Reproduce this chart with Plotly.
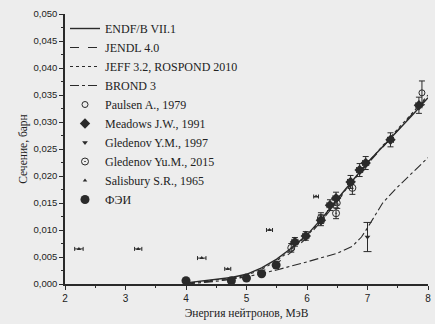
import plotly.graph_objects as go

# Evaluated curves
E_endf = [4.0, 4.25, 4.5, 4.75, 5.0, 5.25, 5.5, 5.75, 6.0, 6.25, 6.5, 6.75, 7.0, 7.25, 7.5, 7.75, 8.0]
s_endf = [0.0002, 0.0005, 0.0008, 0.0012, 0.0018, 0.0030, 0.0046, 0.0067, 0.0091, 0.0122, 0.0157, 0.0191, 0.0225, 0.0254, 0.0283, 0.0314, 0.0345]
E_jendl = [4.0, 4.25, 4.5, 4.75, 5.0, 5.25, 5.5, 5.75, 6.0, 6.25, 6.5, 6.75, 7.0, 7.25, 7.5, 7.75, 8.0]
s_jendl = [0.0001, 0.0003, 0.0006, 0.0009, 0.0014, 0.0023, 0.0038, 0.0060, 0.0086, 0.0118, 0.0153, 0.0188, 0.0222, 0.0253, 0.0284, 0.0316, 0.0348]
E_jeff = [4.0, 4.25, 4.5, 4.75, 5.0, 5.25, 5.5, 5.75, 6.0, 6.25, 6.5, 6.75, 7.0, 7.25, 7.5, 7.75, 8.0]
s_jeff = [0.0001, 0.0004, 0.0007, 0.0011, 0.0016, 0.0027, 0.0043, 0.0064, 0.0089, 0.0120, 0.0155, 0.0190, 0.0224, 0.0256, 0.0286, 0.0318, 0.0350]
E_brond = [4.0, 4.5, 5.0, 5.5, 6.0, 6.5, 6.75, 6.9, 7.0, 7.25, 7.5, 7.75, 8.0]
s_brond = [0.0000, 0.0005, 0.0013, 0.0026, 0.0041, 0.0057, 0.0070, 0.0087, 0.0104, 0.0150, 0.0180, 0.0207, 0.0234]

# Experimental data
E_paulsen = [6.5, 7.9]
s_paulsen = [0.0150, 0.0354]
e_paulsen = [0.0010, 0.0022]

E_meadows = [5.8, 5.98, 6.23, 6.38, 6.48, 6.72, 6.87, 6.97, 7.38, 7.85]
s_meadows = [0.0078, 0.0089, 0.0118, 0.0146, 0.0159, 0.0189, 0.0211, 0.0224, 0.0267, 0.0331]
e_meadows = [0.0008, 0.0008, 0.0010, 0.0010, 0.0011, 0.0012, 0.0012, 0.0012, 0.0013, 0.0015]

E_gled97 = [7.0]
s_gled97 = [0.0087]
e_gled97 = [0.0027]

E_gled15 = [5.74, 6.23, 6.48, 6.75]
s_gled15 = [0.0067, 0.0122, 0.0131, 0.0178]
e_gled15 = [0.0008, 0.0010, 0.0010, 0.0012]

E_salis = [2.23, 3.21, 4.26, 4.69, 5.38, 6.15]
s_salis = [0.0065, 0.0065, 0.0048, 0.0028, 0.0100, 0.0162]
xe_salis = [0.07, 0.06, 0.07, 0.05, 0.05, 0.04]

E_ipe = [4.0, 4.75, 5.0, 5.25, 5.49]
s_ipe = [0.0006, 0.0006, 0.0011, 0.0019, 0.0035]

C = "#2a2a2a"
fig = go.Figure()
fig.add_trace(go.Scatter(x=E_endf, y=s_endf, mode="lines", name="ENDF/B VII.1",
                         line=dict(color=C, width=1.4, dash="solid")))
fig.add_trace(go.Scatter(x=E_jendl, y=s_jendl, mode="lines", name="JENDL 4.0",
                         line=dict(color=C, width=1.1, dash="dash")))
fig.add_trace(go.Scatter(x=E_jeff, y=s_jeff, mode="lines", name="JEFF 3.2, ROSPOND 2010",
                         line=dict(color=C, width=1.1, dash="dot")))
fig.add_trace(go.Scatter(x=E_brond, y=s_brond, mode="lines", name="BROND 3",
                         line=dict(color=C, width=1.1, dash="dashdot")))
eb = dict(color=C, thickness=1, width=3)
fig.add_trace(go.Scatter(x=E_paulsen, y=s_paulsen, mode="markers", name="Paulsen A., 1979",
                         marker=dict(symbol="circle-open", size=6, color=C, line=dict(width=1)),
                         error_y=dict(type="data", array=e_paulsen, **eb)))
fig.add_trace(go.Scatter(x=E_meadows, y=s_meadows, mode="markers", name="Meadows J.W., 1991",
                         marker=dict(symbol="diamond", size=8, color=C),
                         error_y=dict(type="data", array=e_meadows, **eb),
                         error_x=dict(type="constant", value=0.05, **eb)))
fig.add_trace(go.Scatter(x=E_gled97, y=s_gled97, mode="markers", name="Gledenov Y.M., 1997",
                         marker=dict(symbol="triangle-down", size=5, color=C),
                         error_y=dict(type="data", array=e_gled97, color=C, thickness=1, width=4)))
fig.add_trace(go.Scatter(x=E_gled15, y=s_gled15, mode="markers", name="Gledenov Yu.M., 2015",
                         marker=dict(symbol="circle-open-dot", size=7, color=C, line=dict(width=1)),
                         error_y=dict(type="data", array=e_gled15, **eb)))
fig.add_trace(go.Scatter(x=E_salis, y=s_salis, mode="markers", name="Salisbury S.R., 1965",
                         marker=dict(symbol="triangle-up", size=4, color=C),
                         error_x=dict(type="data", array=xe_salis, color=C, thickness=1, width=2)))
fig.add_trace(go.Scatter(x=E_ipe, y=s_ipe, mode="markers", name="ФЭИ",
                         marker=dict(symbol="circle", size=9, color=C)))

fig.update_layout(
    width=435, height=324,
    margin=dict(l=65, r=4, t=14, b=40),
    paper_bgcolor="#ededed", plot_bgcolor="#ededed",
    separators=", ",
    font=dict(family="Liberation Serif", color="#222222"),
    showlegend=True,
    legend=dict(x=0.0, y=1.0, xanchor="left", yanchor="top", bgcolor="rgba(0,0,0,0)",
                font=dict(family="Liberation Serif", size=12, color="#222222"),
                itemwidth=30, tracegroupgap=0),
    xaxis=dict(range=[2, 8], dtick=1, tick0=2, showgrid=False, zeroline=False,
               showline=True, linecolor=C, linewidth=1.5, ticks="outside", ticklen=4,
               tickcolor=C, tickfont=dict(family="Liberation Sans", size=10, color="#222"),
               minor=dict(ticks="outside", ticklen=2, dtick=0.5, tickcolor=C),
               title=dict(text="Энергия нейтронов, МэВ", standoff=6,
                          font=dict(family="Liberation Serif", size=11.5))),
    yaxis=dict(range=[0, 0.05], dtick=0.005, tickformat=".3f", showgrid=False, zeroline=False,
               showline=True, linecolor=C, linewidth=1.5, ticks="outside", ticklen=4,
               tickcolor=C, tickfont=dict(family="Liberation Sans", size=9.5, color="#222"),
               minor=dict(ticks="outside", ticklen=2, dtick=0.0025, tickcolor=C),
               title=dict(text="Сечение, барн", standoff=4,
                          font=dict(family="Liberation Serif", size=11.5))),
)
fig.write_html("out.html")
